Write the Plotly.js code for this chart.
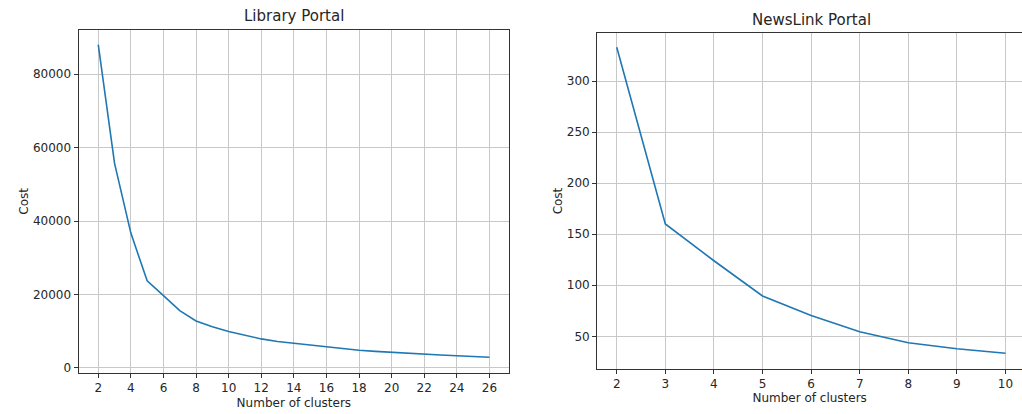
<!DOCTYPE html>
<html>
<head>
<meta charset="utf-8">
<script src="https://cdn.plot.ly/plotly-3.0.1.min.js"></script>
<style>html,body{margin:0;padding:0;background:#fff;}#chart{width:1022px;height:414px;}</style>
</head>
<body>
<div id="chart"></div>
<script>
const libraryClusters = [2,3,4,5,6,7,8,9,10,11,12,13,14,15,16,17,18,19,20,21,22,23,24,25,26];
const libraryCost = [88000,55700,36700,23700,19700,15600,12800,11200,9900,8800,7900,7200,6700,6100,5600,5200,4800,4500,4200,3900,3700,3500,3300,3100,2900];
const newsClusters = [2,3,4,5,6,7,8,9,10];
const newsCost = [333,160,124,89.5,70.5,54.5,43.7,37.9,33.4];
const libraryXTicks = [2,4,6,8,10,12,14,16,18,20,22,24,26];
const libraryYTicks = [0,20000,40000,60000,80000];
const newsXTicks = [2,3,4,5,6,7,8,9,10];
const newsYTicks = [50,100,150,200,250,300];
const titles = ["Library Portal", "NewsLink Portal"];

const W = 1022, H = 414;
const font = {family: "DejaVu Sans", size: 12, color: "#262626"};
const titleFont = {family: "DejaVu Sans", size: 15, color: "#262626"};
const lineStyle = {color: "#1f77b4", width: 1.6};

function axisBase(extra) {
  return Object.assign({
    showgrid: true, gridcolor: "#c8c8c8", gridwidth: 1,
    showline: true, linecolor: "#333", linewidth: 1.2,
    ticks: "outside", ticklen: 4, tickcolor: "#333", tickwidth: 1,
    zeroline: false, tickfont: font, automargin: false, fixedrange: true,
    tickformat: "d"
  }, extra);
}

const traces = [
  {x: libraryClusters, y: libraryCost, type: "scatter", mode: "lines", line: lineStyle, xaxis: "x", yaxis: "y", hoverinfo: "skip"},
  {x: newsClusters, y: newsCost, type: "scatter", mode: "lines", line: lineStyle, xaxis: "x2", yaxis: "y2", hoverinfo: "skip"}
];

const layout = {
  width: W, height: H,
  margin: {l: 0, r: 0, t: 0, b: 0},
  paper_bgcolor: "#fff", plot_bgcolor: "#fff",
  showlegend: false, font: font,
  xaxis: axisBase({domain: [78.7/W, 509/W], range: [0.8, 27.2], tickvals: libraryXTicks, anchor: "y", mirror: true,
    title: {text: "Number of clusters", font: font, standoff: 4}}),
  yaxis: axisBase({domain: [1 - 372.7/H, 1 - 30/H], range: [-1300, 92000], tickvals: libraryYTicks, anchor: "x", mirror: true,
    title: {text: "Cost", font: font}}),
  xaxis2: axisBase({domain: [597.3/W, 1], range: [1.6, 10.34], tickvals: newsXTicks, anchor: "y2", mirror: true,
    title: {text: "Number of clusters", font: font, standoff: 0}}),
  yaxis2: axisBase({domain: [1 - 368.7/H, 1 - 33.3/H], range: [18.3, 346.7], tickvals: newsYTicks, anchor: "x2", mirror: false,
    title: {text: "Cost", font: font}}),
  annotations: [
    {text: titles[0], xref: "paper", yref: "paper", x: 294/W, y: 1 - 16/H, xanchor: "center", yanchor: "middle", showarrow: false, font: titleFont},
    {text: titles[1], xref: "paper", yref: "paper", x: 811/W, y: 1 - 20/H, xanchor: "center", yanchor: "middle", showarrow: false, font: titleFont}
  ]
};

Plotly.newPlot("chart", traces, layout, {staticPlot: true, displayModeBar: false});
</script>
</body>
</html>
